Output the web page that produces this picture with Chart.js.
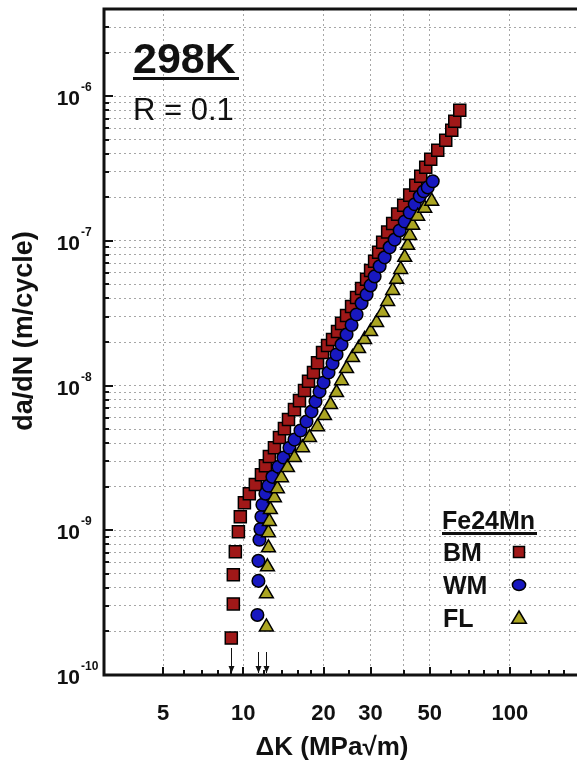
<!DOCTYPE html>
<html>
<head>
<meta charset="utf-8">
<script src="https://cdn.jsdelivr.net/npm/chart.js@4.4.1/dist/chart.umd.min.js"></script>
<style>
    html, body { margin: 0; padding: 0; background: #fff; }
    #wrap { width: 577px; height: 762px; }
</style>
</head>
<body>
<div id="wrap"><canvas id="fcgChart" width="577" height="762"></canvas></div>
<script>
// Fe24Mn, 298 K, R = 0.1 : da/dN vs delta K
const bmK = [9.01, 9.17, 9.17, 9.33, 9.58, 9.74, 10.09, 10.53, 11.09, 11.69, 12.10, 12.52, 13.08, 13.66, 14.26, 14.77,
    15.55, 16.24, 16.96, 17.56, 18.33, 18.98, 19.82, 20.70, 21.61, 22.56, 23.36, 24.39, 25.47, 26.59, 27.77, 29.00,
    30.02, 31.08, 32.18, 33.32, 34.79, 36.33, 37.93, 39.96, 42.09, 44.34, 46.30, 48.34, 50.47, 53.62, 57.46, 60.53,
    62.13, 64.86];
const bmRate = [1.80e-10, 3.10e-10, 4.92e-10, 7.10e-10, 9.77e-10, 1.24e-9, 1.55e-9, 1.79e-9, 2.07e-9, 2.42e-9, 2.79e-9,
    3.23e-9, 3.72e-9, 4.37e-9, 5.04e-9, 5.82e-9, 6.82e-9, 7.87e-9, 9.23e-9, 1.07e-8, 1.23e-8, 1.44e-8, 1.69e-8, 1.89e-8,
    2.08e-8, 2.36e-8, 2.69e-8, 3.05e-8, 3.52e-8, 4.06e-8, 4.69e-8, 5.42e-8, 6.25e-8, 7.22e-8, 8.33e-8, 9.77e-8, 1.15e-7,
    1.32e-7, 1.53e-7, 1.76e-7, 2.07e-7, 2.42e-7, 2.79e-7, 3.23e-7, 3.66e-7, 4.23e-7, 4.96e-7, 5.82e-7, 6.71e-7, 8.00e-7];

const wmK = [11.29, 11.39, 11.39, 11.49, 11.59, 11.69, 11.79, 12.10, 12.42, 12.85, 13.54, 14.14, 14.89, 15.55, 16.38,
    17.25, 18.02, 18.65, 19.31, 20.00, 20.87, 21.61, 22.37, 23.36, 24.39, 25.47, 26.59, 27.77, 29.00, 30.02, 31.08,
    32.46, 33.89, 35.39, 36.96, 38.60, 40.31, 42.09, 43.96, 45.90, 47.50, 49.18, 51.35];
const wmRate = [2.60e-10, 4.47e-10, 6.15e-10, 8.60e-10, 1.02e-9, 1.24e-9, 1.50e-9, 1.79e-9, 2.03e-9, 2.34e-9, 2.75e-9,
    3.18e-9, 3.72e-9, 4.23e-9, 4.89e-9, 5.64e-9, 6.61e-9, 7.75e-9, 9.08e-9, 1.05e-8, 1.23e-8, 1.42e-8, 1.64e-8, 1.92e-8,
    2.25e-8, 2.62e-8, 3.10e-8, 3.70e-8, 4.26e-8, 4.92e-8, 5.68e-8, 6.67e-8, 7.69e-8, 9.02e-8, 1.02e-7, 1.18e-7, 1.36e-7,
    1.57e-7, 1.79e-7, 2.03e-7, 2.20e-7, 2.34e-7, 2.58e-7];

const flK = [12.20, 12.20, 12.31, 12.42, 12.42, 12.52, 12.63, 13.08, 13.42, 13.90, 14.64, 15.55, 16.67, 17.71, 18.98,
    20.16, 21.24, 22.37, 23.36, 24.39, 25.69, 27.06, 28.50, 30.02, 31.62, 33.32, 34.79, 36.33, 37.61, 38.93, 40.31,
    41.36, 42.09, 43.19, 45.10, 47.92, 50.90];
const flRate = [2.15e-10, 3.64e-10, 5.59e-10, 7.57e-10, 9.62e-10, 1.15e-9, 1.39e-9, 1.68e-9, 1.94e-9, 2.31e-9, 2.71e-9,
    3.18e-9, 3.72e-9, 4.37e-9, 5.20e-9, 6.20e-9, 7.39e-9, 8.95e-9, 1.08e-8, 1.31e-8, 1.56e-8, 1.80e-8, 2.08e-8, 2.36e-8,
    2.73e-8, 3.20e-8, 3.81e-8, 4.54e-8, 5.42e-8, 6.35e-8, 7.69e-8, 9.31e-8, 1.09e-7, 1.28e-7, 1.48e-7, 1.68e-7, 1.88e-7];

// threshold arrows (delta K_th) for BM, WM, FL
const thresholdK = [9.0, 11.3, 12.2];

const xTickLabels = [5, 10, 20, 30, 50, 100];
const xGridVals = [5, 10, 20, 30, 40, 50, 100];
const xMinorTicks = [6, 7, 8, 9, 12, 14, 16, 18, 25, 40, 60, 70, 80, 90, 120, 140, 160];
const yDecades = [-10, -9, -8, -7, -6];

const X_MIN = 3, X_MAX = 178.6, Y_MIN = 1e-10, Y_MAX = 4e-6;

const yTicks = [];
yDecades.forEach(d => {
    for (let m = 1; m <= 9; m++) {
        const v = m * Math.pow(10, d);
        if (v <= Y_MAX * 1.0001) yTicks.push(v);
    }
});

const FONT = "'Liberation Sans', Arial, sans-serif";
const colors = {
    bm: '#a01818',
    wm: '#1818c0',
    fl: '#aba522',
    ink: '#111111',
    grid: '#a6a6a6'
};

function toPoints(ks, rates) {
    return ks.map((k, i) => ({ x: k, y: rates[i] }));
}

function marker(ctx, style, x, y, r) {
    ctx.beginPath();
    if (style === 'rect') {
        ctx.rect(x - r, y - r, 2 * r, 2 * r);
    } else if (style === 'circle') {
        ctx.ellipse(x, y, r * 1.1, r * 0.9, 0, 0, Math.PI * 2);
    } else {
        ctx.moveTo(x, y - r);
        ctx.lineTo(x + r * 1.05, y + r * 0.75);
        ctx.lineTo(x - r * 1.05, y + r * 0.75);
        ctx.closePath();
    }
    ctx.fill();
    ctx.stroke();
}

const decorations = {
    id: 'decorations',
    afterDraw(chart) {
        const { ctx, chartArea: a, scales: { x, y } } = chart;
        ctx.save();

        // inward tick marks
        ctx.strokeStyle = colors.ink;
        ctx.lineWidth = 2;
        yTicks.forEach(v => {
            const py = Math.round(y.getPixelForValue(v));
            const major = Math.abs(Math.log10(v) - Math.round(Math.log10(v))) < 1e-6;
            ctx.beginPath();
            ctx.moveTo(a.left, py);
            ctx.lineTo(a.left + (major ? 9 : 5), py);
            ctx.stroke();
        });
        xTickLabels.forEach(v => {
            const px = Math.round(x.getPixelForValue(v));
            ctx.beginPath();
            ctx.moveTo(px, a.bottom);
            ctx.lineTo(px, a.bottom - 8);
            ctx.stroke();
        });
        xMinorTicks.forEach(v => {
            const px = Math.round(x.getPixelForValue(v));
            ctx.beginPath();
            ctx.moveTo(px, a.bottom);
            ctx.lineTo(px, a.bottom - 5);
            ctx.stroke();
        });

        // frame
        ctx.lineWidth = 3;
        ctx.beginPath();
        ctx.moveTo(a.right, a.top);
        ctx.lineTo(a.left, a.top);
        ctx.lineTo(a.left, a.bottom);
        ctx.lineTo(a.right, a.bottom);
        ctx.stroke();

        // threshold arrows
        ctx.lineWidth = 1;
        ctx.fillStyle = colors.ink;
        thresholdK.forEach((k, i) => {
            const px = Math.round(x.getPixelForValue(k)) + 0.5;
            const top = i === 0 ? 648 : 652;
            ctx.beginPath();
            ctx.moveTo(px, top);
            ctx.lineTo(px, a.bottom - 2);
            ctx.stroke();
            ctx.beginPath();
            ctx.moveTo(px - 3, a.bottom - 9);
            ctx.lineTo(px + 3, a.bottom - 9);
            ctx.lineTo(px, a.bottom - 2);
            ctx.closePath();
            ctx.fill();
        });

        // y tick labels 10^n
        ctx.fillStyle = colors.ink;
        yDecades.forEach(d => {
            const py = y.getPixelForValue(Math.pow(10, d));
            ctx.font = `bold 21px ${FONT}`;
            ctx.textAlign = 'right';
            ctx.textBaseline = 'alphabetic';
            ctx.fillText('10', 80, py + 9);
            ctx.font = `bold 12px ${FONT}`;
            ctx.textAlign = 'left';
            ctx.fillText(String(d), 81, py - 5);
        });

        // x tick labels
        ctx.font = `bold 22px ${FONT}`;
        ctx.textAlign = 'center';
        xTickLabels.forEach(v => {
            ctx.fillText(String(v), x.getPixelForValue(v), 720);
        });

        // axis titles
        ctx.font = `bold 26px ${FONT}`;
        ctx.fillText('\u0394K (MPa\u221Am)', 332, 755);
        ctx.save();
        ctx.translate(32, 331);
        ctx.rotate(-Math.PI / 2);
        ctx.font = `bold 27px ${FONT}`;
        ctx.fillText('da/dN (m/cycle)', 0, 0);
        ctx.restore();

        // annotation
        ctx.textAlign = 'left';
        ctx.font = `bold 43px ${FONT}`;
        ctx.fillText('298K', 133, 73);
        ctx.fillRect(133, 77, 106, 3);
        ctx.font = `31px ${FONT}`;
        ctx.fillText('R = 0.1', 133, 120);

        // legend
        ctx.font = `bold 25px ${FONT}`;
        ctx.fillText('Fe24Mn', 442, 529);
        ctx.fillRect(442, 532, 95, 3);
        const legendRows = [
            ['BM', 'rect', colors.bm, 552, 5.5],
            ['WM', 'circle', colors.wm, 585, 6],
            ['FL', 'triangle', colors.fl, 618, 7]
        ];
        legendRows.forEach(([name, style, fill, ly, r]) => {
            ctx.fillStyle = colors.ink;
            ctx.fillText(name, 443, ly + 9);
            ctx.fillStyle = fill;
            ctx.strokeStyle = '#000';
            ctx.lineWidth = 1.5;
            marker(ctx, style, 519, ly, r);
        });

        ctx.restore();
    }
};

function pointSet(label, ks, rates, style, fill, radius, order) {
    return {
        label,
        data: toPoints(ks, rates),
        showLine: false,
        pointStyle: style,
        pointRadius: radius,
        pointBackgroundColor: fill,
        pointBorderColor: '#000',
        pointBorderWidth: 1.5,
        order
    };
}

const ctx = document.getElementById('fcgChart').getContext('2d');
const chart = new Chart(ctx, {
    type: 'scatter',
    data: {
        datasets: [
            pointSet('BM', bmK, bmRate, 'rect', colors.bm, 8.5, 3),
            pointSet('WM', wmK, wmRate, 'circle', colors.wm, 6.3, 2),
            pointSet('FL', flK, flRate, 'triangle', colors.fl, 8, 1)
        ]
    },
    options: {
        responsive: false,
        animation: false,
        layout: { autoPadding: false, padding: { left: 104, right: 0, top: 9, bottom: 87 } },
        plugins: { legend: { display: false }, tooltip: { enabled: false } },
        scales: {
            x: {
                type: 'logarithmic',
                min: X_MIN,
                max: X_MAX,
                afterBuildTicks: s => { s.ticks = xGridVals.map(v => ({ value: v })); },
                ticks: { display: false },
                grid: { color: colors.grid, lineWidth: 1, drawTicks: false },
                border: { display: false, dash: [2, 3] }
            },
            y: {
                type: 'logarithmic',
                min: Y_MIN,
                max: Y_MAX,
                afterBuildTicks: s => { s.ticks = yTicks.map(v => ({ value: v })); },
                ticks: { display: false },
                grid: { color: colors.grid, lineWidth: 1, drawTicks: false },
                border: { display: false, dash: [2, 3] }
            }
        }
    },
    plugins: [decorations]
});
</script>
</body>
</html>
